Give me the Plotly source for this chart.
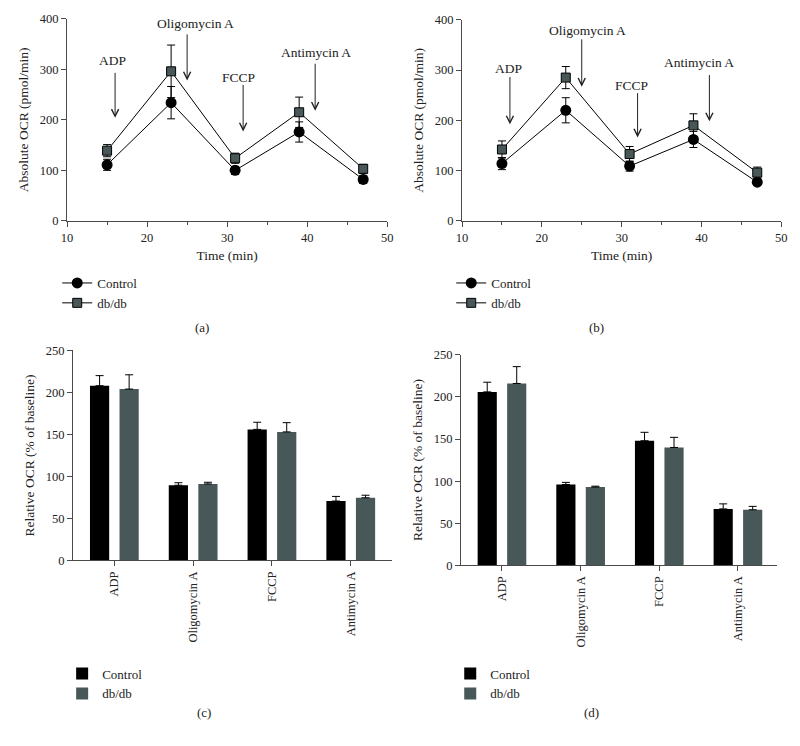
import plotly.graph_objects as go

# ---------------- data ----------------
time_min = [15, 23, 31, 39, 47]

# panel (a)
a_control = [111, 234, 100, 176, 82]
a_control_err = [11, 32, 8, 20, 8]
a_dbdb = [139, 296, 124, 215, 103]
a_dbdb_err = [12, 52, 10, 30, 9]

# panel (b)
b_control = [114, 220, 109, 162, 77]
b_control_err = [12, 25, 10, 16, 5]
b_dbdb = [142, 285, 133, 190, 96]
b_dbdb_err = [17, 22, 15, 23, 11]

categories = ["ADP", "Oligomycin A", "FCCP", "Antimycin A"]

# panel (c)
c_control = [208, 89.5, 156, 70.7]
c_control_err = [12, 3, 8.5, 5.5]
c_dbdb = [204, 91, 153, 74.6]
c_dbdb_err = [17, 2, 11, 3]

# panel (d)
d_control = [206, 96, 148, 67]
d_control_err = [11.5, 2.5, 10, 6]
d_dbdb = [216, 93, 140, 66]
d_dbdb_err = [20, 1, 12, 4]

# injection annotations: (label, arrow x, arrow top, arrow bottom, text x, text y)
a_injections = [("ADP", 16, 296, 204, 15.7, 317),
                ("Oligomycin A", 25, 372, 278, 26.0, 391),
                ("FCCP", 32, 272, 177, 31.4, 283),
                ("Antimycin A", 41, 314, 218, 41.1, 333)]
b_injections = [("ADP", 16, 289, 192, 15.8, 304),
                ("Oligomycin A", 25, 364, 267, 25.7, 379),
                ("FCCP", 32, 257, 166, 31.3, 270),
                ("Antimycin A", 41, 293, 198, 39.7, 315)]

FONT = "Liberation Serif"
BLACK = "#000000"
GREY = "#485858"
AXIS = "#4a4a4a"
W, H = 800, 746

fig = go.Figure()


def line_panel(xa, ya, ctrl, ctrl_err, db, db_err, legend):
    fig.add_trace(go.Scatter(
        x=time_min, y=ctrl, mode="lines+markers", name="Control",
        xaxis=xa, yaxis=ya, legend=legend,
        line=dict(color=BLACK, width=1),
        marker=dict(symbol="circle", size=11, color=BLACK),
        error_y=dict(type="data", array=ctrl_err, color=BLACK, thickness=1, width=4)))
    fig.add_trace(go.Scatter(
        x=time_min, y=db, mode="lines+markers", name="db/db",
        xaxis=xa, yaxis=ya, legend=legend,
        line=dict(color=BLACK, width=1),
        marker=dict(symbol="square", size=9, color=GREY, line=dict(color=BLACK, width=1)),
        error_y=dict(type="data", array=db_err, color=BLACK, thickness=1, width=4)))


def bar_panel(xa, ya, ctrl, ctrl_err, db, db_err, legend):
    fig.add_trace(go.Bar(
        x=categories, y=ctrl, name="Control", xaxis=xa, yaxis=ya, legend=legend,
        marker=dict(color=BLACK, line=dict(width=0)),
        error_y=dict(type="data", symmetric=False, array=ctrl_err,
                     arrayminus=[0] * len(ctrl), color=BLACK, thickness=1, width=4)))
    fig.add_trace(go.Bar(
        x=categories, y=db, name="db/db", xaxis=xa, yaxis=ya, legend=legend,
        marker=dict(color=GREY, line=dict(width=0)),
        error_y=dict(type="data", symmetric=False, array=db_err,
                     arrayminus=[0] * len(db), color=BLACK, thickness=1, width=4)))


line_panel("x", "y", a_control, a_control_err, a_dbdb, a_dbdb_err, "legend")
line_panel("x2", "y2", b_control, b_control_err, b_dbdb, b_dbdb_err, "legend2")
bar_panel("x3", "y3", c_control, c_control_err, c_dbdb, c_dbdb_err, "legend3")
bar_panel("x4", "y4", d_control, d_control_err, d_dbdb, d_dbdb_err, "legend4")

tickfont = dict(family=FONT, size=12.5, color="#222")
titlefont = dict(family=FONT, size=13.5, color="#222")

common = dict(showgrid=False, zeroline=False, showline=True, linecolor=AXIS, linewidth=1,
              ticks="outside", tickcolor=AXIS, ticklen=5, tickwidth=1, tickfont=tickfont)


def px_x(p):
    return p / W


def px_y(p):
    return 1 - p / H


layout = dict(
    width=W, height=H, paper_bgcolor="white", plot_bgcolor="white",
    margin=dict(l=0, r=0, t=0, b=0), barmode="group", bargap=0.25, bargroupgap=0.35,
    font=dict(family=FONT, size=12, color="#222"),
    xaxis=dict(domain=[px_x(62), px_x(387)], anchor="y", range=[10, 50], dtick=10,
               minor=dict(ticks="outside", dtick=5, ticklen=3, tickcolor=AXIS),
               title=dict(text="Time (min)", font=titlefont, standoff=6), **common),
    yaxis=dict(domain=[px_y(218), px_y(12)], anchor="x", range=[0, 400], dtick=100,
               title=dict(text="Absolute OCR (pmol/min)", font=titlefont, standoff=8), **common),
    xaxis2=dict(domain=[px_x(463), px_x(787)], anchor="y2", range=[10, 50], dtick=10,
                minor=dict(ticks="outside", dtick=5, ticklen=3, tickcolor=AXIS),
                title=dict(text="Time (min)", font=titlefont, standoff=6), **common),
    yaxis2=dict(domain=[px_y(218), px_y(13)], anchor="x2", range=[0, 400], dtick=100,
                title=dict(text="Absolute OCR (pmol/min)", font=titlefont, standoff=8), **common),
    xaxis3=dict(domain=[px_x(68), px_x(392)], anchor="y3", range=[-0.525, 3.525],
                tickangle=-90, **common),
    yaxis3=dict(domain=[px_y(564), px_y(350)], anchor="x3", range=[0, 250], dtick=50,
                title=dict(text="Relative OCR (% of baseline)", font=titlefont, standoff=8), **common),
    xaxis4=dict(domain=[px_x(462), px_x(783)], anchor="y4", range=[-0.52, 3.5],
                tickangle=-90, **common),
    yaxis4=dict(domain=[px_y(569), px_y(354.5)], anchor="x4", range=[0, 250], dtick=50,
                title=dict(text="Relative OCR (% of baseline)", font=titlefont, standoff=8), **common),
)

leg_common = dict(xanchor="left", yanchor="top", bgcolor="rgba(0,0,0,0)",
                  font=dict(family=FONT, size=13, color="#222"), tracegroupgap=0,
                  itemwidth=30)
layout["legend"] = dict(x=px_x(52), y=px_y(266), **leg_common)
layout["legend2"] = dict(x=px_x(452), y=px_y(266), **leg_common)
layout["legend3"] = dict(x=px_x(57), y=px_y(664), **leg_common)
layout["legend4"] = dict(x=px_x(451), y=px_y(664), **leg_common)

fig.update_layout(**layout)

annotations = []
for injections, xr, yr in ((a_injections, "x", "y"), (b_injections, "x2", "y2")):
    for label, ax_, top, bottom, tx, ty in injections:
        annotations.append(dict(
            x=ax_, y=bottom, ax=ax_, ay=top, xref=xr, yref=yr, axref=xr, ayref=yr,
            showarrow=True, arrowhead=5, arrowsize=1.4, arrowwidth=1, arrowcolor="#222",
            text=""))
        annotations.append(dict(
            x=tx, y=ty, xref=xr, yref=yr, text=label, showarrow=False,
            font=dict(family=FONT, size=13.5, color="#222"), xanchor="center", yanchor="middle"))

for label, px_, py_ in (("(a)", 199, 327), ("(b)", 599, 327), ("(c)", 201, 719), ("(d)", 594, 719)):
    annotations.append(dict(x=px_x(px_), y=px_y(py_), xref="paper", yref="paper", text=label,
                            showarrow=False, font=dict(family=FONT, size=13, color="#222"),
                            xanchor="center", yanchor="middle"))

fig.update_layout(annotations=annotations)
fig.write_html("out.html", config={"displayModeBar": False},
               post_script="document.body.style.margin='0';")
